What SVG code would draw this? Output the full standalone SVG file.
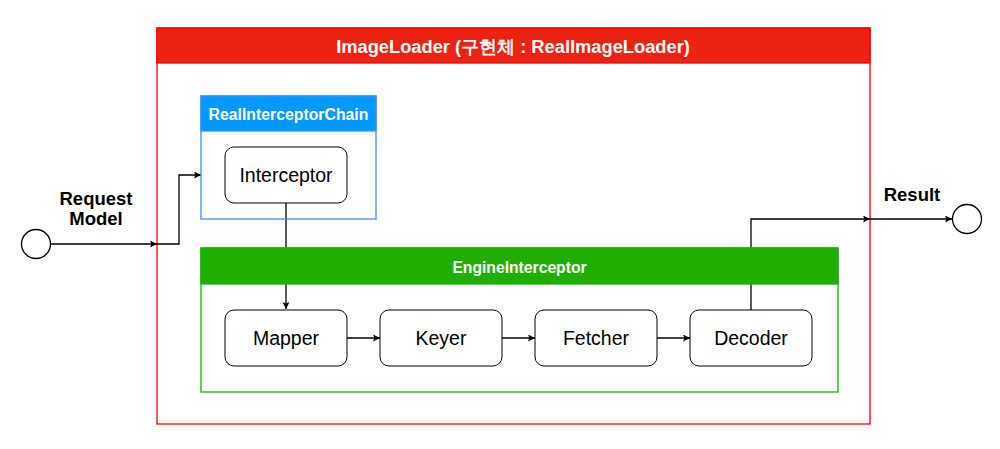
<svg xmlns="http://www.w3.org/2000/svg" width="1000" height="449" viewBox="0 0 1000 449">
<defs>
<style>
.node rect{fill:#fff;stroke:#000;stroke-width:1}
.lbl{font-family:"Liberation Sans",Arial,sans-serif;font-size:19.5px;fill:#000;text-anchor:middle;dominant-baseline:central}
.hdr{font-family:"Liberation Sans",Arial,sans-serif;font-weight:bold;fill:#fff;text-anchor:middle;dominant-baseline:central}
.ext{font-family:"Liberation Sans",Arial,sans-serif;font-weight:bold;font-size:18.5px;fill:#000;text-anchor:middle}
.edge{fill:none;stroke:#000;stroke-width:1.3;marker-end:url(#arr)}
</style>
<marker id="arr" viewBox="0 0 10 10" refX="10" refY="5" markerWidth="7" markerHeight="7" markerUnits="userSpaceOnUse" orient="auto">
<path d="M0,0 L10,5 L0,10 L2,5 Z" fill="#000"/>
</marker>
</defs>
<rect width="1000" height="449" fill="#fff"/>
<g id="imageloader">
<rect x="157" y="28" width="713" height="396" fill="#fff" stroke="#ff0000" stroke-width="1.3"/>
<rect x="157" y="28" width="713" height="35" fill="#ee2211" stroke="#ff0000" stroke-width="1.3"/>
<text class="hdr" x="513" y="46" font-size="18.3" font-family="'Liberation Sans','Noto Sans CJK KR',sans-serif">ImageLoader (구현체 : RealImageLoader)</text>
</g>
<g id="connectors">
<path class="edge" d="M51,244 L157,244"/>
<path class="edge" d="M157,244 L179,244 L179,175 L201,175"/>
<path class="edge" d="M286,203 L286,309"/>
<path class="edge" d="M347,338 L380,338"/>
<path class="edge" d="M502,338 L535,338"/>
<path class="edge" d="M657,338 L690,338"/>
<path class="edge" d="M751,310 L751,219 L870,219"/>
<path class="edge" d="M870,219 L952,219"/>
</g>
<g id="realinterceptorchain">
<rect x="201" y="96" width="175" height="123" fill="none" stroke="#3d8ff0" stroke-width="1.3"/>
<rect x="201" y="96" width="175" height="35" fill="#0099ff" stroke="#3d8ff0" stroke-width="1.3"/>
<text class="hdr" x="288.5" y="114" font-size="15.8">RealInterceptorChain</text>
</g>
<g id="engineinterceptor">
<rect x="201" y="248" width="637" height="144" fill="none" stroke="#22aa11" stroke-width="1.3"/>
<rect x="201" y="248" width="637" height="36" fill="#1faf00" stroke="#22aa11" stroke-width="1.3"/>
<text class="hdr" x="519.5" y="267" font-size="15.7">EngineInterceptor</text>
</g>
<g id="interceptor" class="node"><rect x="225" y="147" width="122" height="56" rx="9"/><text class="lbl" x="286" y="175">Interceptor</text></g>
<g id="mapper" class="node"><rect x="225" y="310" width="122" height="56" rx="9"/><text class="lbl" x="286" y="338">Mapper</text></g>
<g id="keyer" class="node"><rect x="380" y="310" width="122" height="56" rx="9"/><text class="lbl" x="441" y="338">Keyer</text></g>
<g id="fetcher" class="node"><rect x="535" y="310" width="122" height="56" rx="9"/><text class="lbl" x="596" y="338">Fetcher</text></g>
<g id="decoder" class="node"><rect x="690" y="310" width="122" height="56" rx="9"/><text class="lbl" x="751" y="338">Decoder</text></g>
<g id="request">
<circle cx="36" cy="244" r="14.5" fill="#fff" stroke="#000" stroke-width="1.3"/>
<text class="ext" x="96" y="205">Request</text>
<text class="ext" x="96" y="225">Model</text>
</g>
<g id="result">
<circle cx="967" cy="219" r="14.5" fill="#fff" stroke="#000" stroke-width="1.3"/>
<text class="ext" x="912" y="201">Result</text>
</g>
</svg>
